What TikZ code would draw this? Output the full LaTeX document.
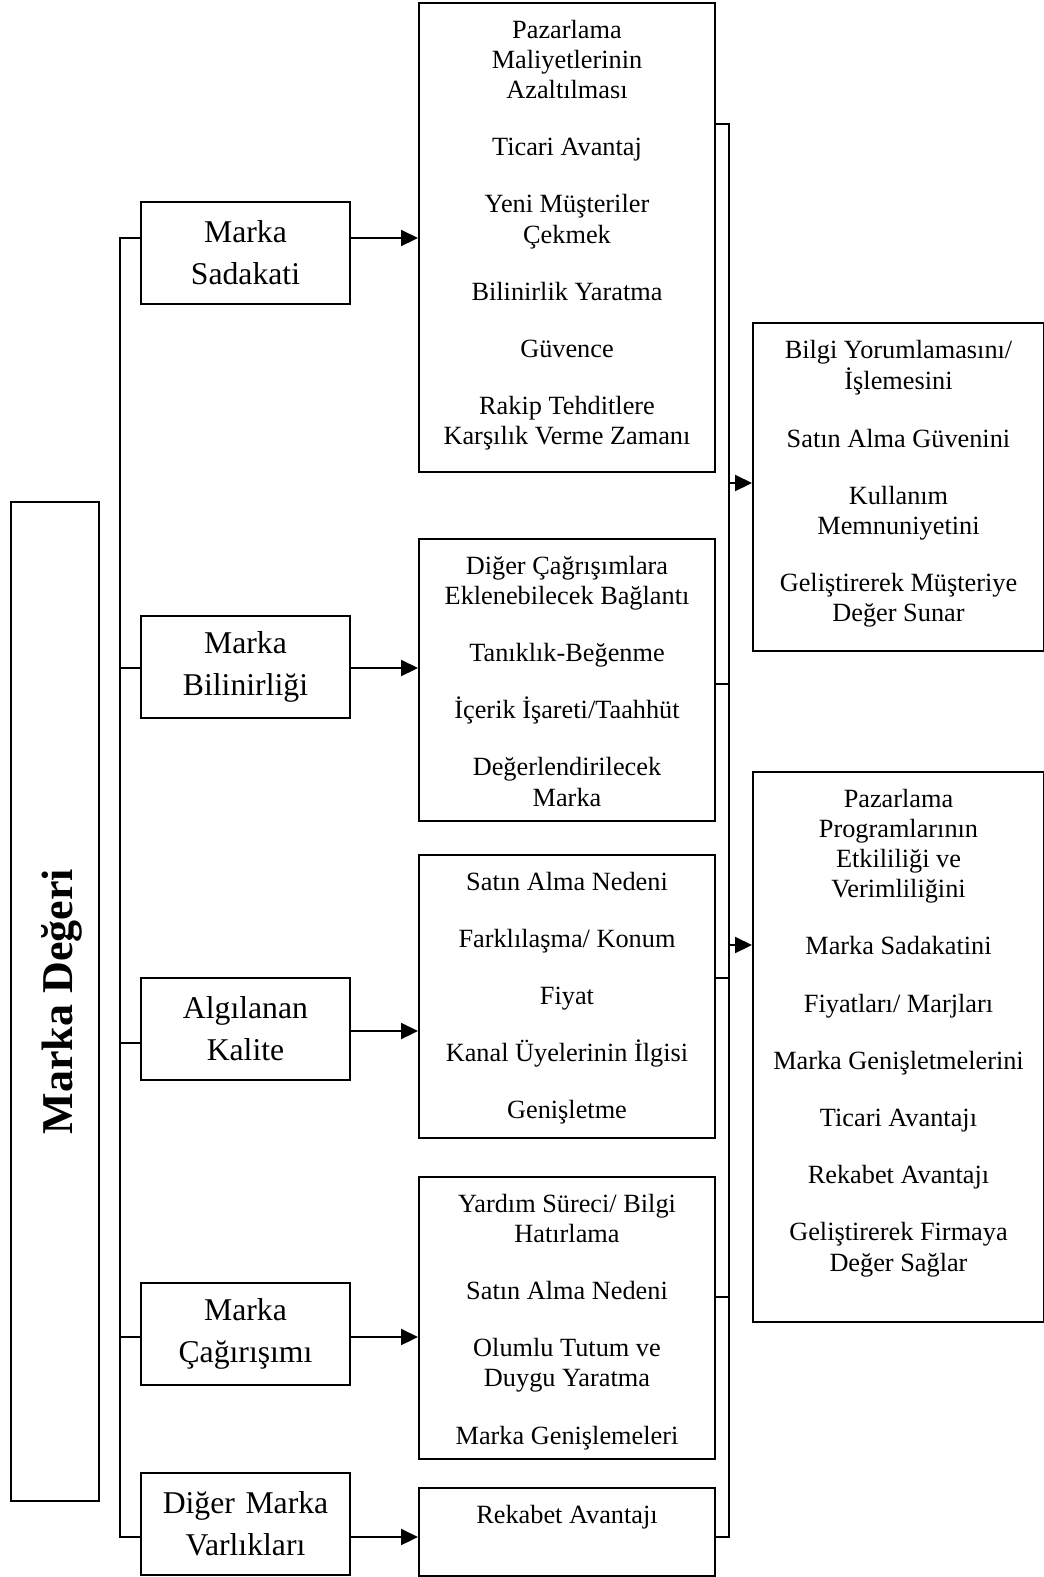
\documentclass[tikz,border=0pt]{standalone}
\usepackage{fontspec}
\setmainfont{Liberation Serif}
\usetikzlibrary{arrows.meta}
\newcommand\cellbody[3]{\parbox[c][#2][t]{#1}{\vspace*{14pt}\centering\strut #3}}
\tikzset{
  lvl/.style={draw, line width=2pt, minimum width=209pt, minimum height=102pt, text width=200pt, inner xsep=0pt, align=center, font={\fontsize{31.7}{42}\selectfont}},
  cell/.style={draw, line width=2pt, inner sep=0pt, anchor=north west, font={\fontsize{26.3}{30.2}\selectfont}},
  arr/.style={-{Triangle[length=17pt, width=16pt]}, line width=2.2pt},
  lin/.style={line width=2pt}
}
\begin{document}
\begin{tikzpicture}[x=1pt, y=-1pt]
\useasboundingbox (0,0) rectangle (1044,1577);
% main box
\node[draw, line width=2pt, rotate=90, minimum width=999pt, minimum height=88pt, inner sep=0pt, text height=34pt, text depth=0pt, font={\fontsize{44}{50}\selectfont\bfseries}] (md) at (55,1001.5) {Marka Değeri};
% first level
\node[lvl] (sad) at (245.5,253) {Marka\\Sadakati};
\node[lvl] (bil) at (245.5,667) {Marka\\Bilinirliği};
\node[lvl] (alg) at (245.5,1029) {Algılanan\\Kalite};
\node[lvl] (cag) at (245.5,1333.5) {Marka\\Çağırışımı};
\node[lvl] (dig) at (245.5,1524) {Diğer Marka\\Varlıkları};
% middle column
\node[cell] (m1) at (418,2) {\cellbody{296pt}{469pt}{Pazarlama\\ Maliyetlerinin\\ Azaltılması\\[27pt] Ticari Avantaj\\[27pt] Yeni Müşteriler\\ Çekmek\\[27pt] Bilinirlik Yaratma\\[27pt] Güvence\\[27pt] Rakip Tehditlere\\ Karşılık Verme Zamanı}};
\node[cell] (m2) at (418,538) {\cellbody{296pt}{282pt}{Diğer Çağrışımlara\\ Eklenebilecek Bağlantı\\[27pt] Tanıklık-Beğenme\\[27pt] İçerik İşareti/Taahhüt\\[27pt] Değerlendirilecek\\ Marka}};
\node[cell] (m3) at (418,854) {\cellbody{296pt}{283pt}{Satın Alma Nedeni\\[27pt] Farklılaşma/ Konum\\[27pt] Fiyat\\[27pt] Kanal Üyelerinin İlgisi\\[27pt] Genişletme}};
\node[cell] (m4) at (418,1176) {\cellbody{296pt}{282pt}{Yardım Süreci/ Bilgi\\ Hatırlama\\[27pt] Satın Alma Nedeni\\[27pt] Olumlu Tutum ve\\ Duygu Yaratma\\[27pt] Marka Genişlemeleri}};
\node[cell] (m5) at (418,1487) {\cellbody{296pt}{88pt}{Rekabet Avantajı}};
% right column
\node[cell] (r1) at (752,322) {\cellbody{291pt}{328pt}{Bilgi Yorumlamasını/\\ İşlemesini\\[27pt] Satın Alma Güvenini\\[27pt] Kullanım\\ Memnuniyetini\\[27pt] Geliştirerek Müşteriye\\ Değer Sunar}};
\node[cell] (r2) at (752,771) {\cellbody{291pt}{550pt}{Pazarlama\\ Programlarının\\ Etkililiği ve\\ Verimliliğini\\[27pt] Marka Sadakatini\\[27pt] Fiyatları/ Marjları\\[27pt] Marka Genişletmelerini\\[27pt] Ticari Avantajı\\[27pt] Rekabet Avantajı\\[27pt] Geliştirerek Firmaya\\ Değer Sağlar}};
% left bracket
\coordinate (lb1) at (120,238);
\coordinate (lb5) at (120,1537);
\draw[lin] (sad.west |- lb1) -- (lb1) -- (lb5) -- (dig.west |- lb5);
\foreach \n/\y in {bil/668, alg/1043, cag/1337}
  \draw[lin] (120,\y) -- (\n.west |- 0,\y);
\foreach \n/\m/\y in {sad/m1/238, bil/m2/668, alg/m3/1031, cag/m4/1337, dig/m5/1537}
  \draw[arr] (\n.east |- 0,\y) -- (\m.west |- 0,\y);
% right bracket
\coordinate (rb1) at (729,124);
\coordinate (rb5) at (729,1537);
\draw[lin] (m1.east |- rb1) -- (rb1) -- (rb5) -- (m5.east |- rb5);
\foreach \m/\y in {m2/684, m3/978, m4/1297}
  \draw[lin] (\m.east |- 0,\y) -- (729,\y);
\draw[arr] (729,483) -- (r1.west |- 0,483);
\draw[arr] (729,945) -- (r2.west |- 0,945);
\end{tikzpicture}
\end{document}
